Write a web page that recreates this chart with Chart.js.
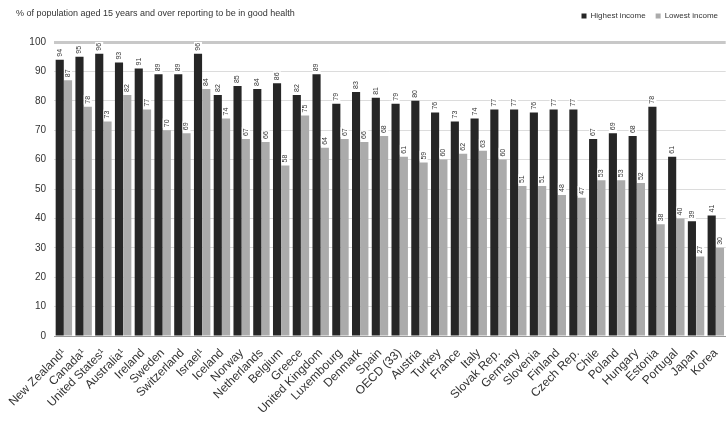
<!DOCTYPE html>
<html>
<head>
<meta charset="utf-8">
<script src="https://cdn.jsdelivr.net/npm/chart.js@4.4.1/dist/chart.umd.min.js"></script>
<style>
  body { margin: 0; background: #fff; }
  #wrap { position: relative; width: 728px; height: 421px; }
  .title { position: absolute; left: 16px; top: 8px; font: 9px "Liberation Sans", Arial, sans-serif; color: #333; }
</style>
</head>
<body>
<div id="wrap">
  <div class="title">% of population aged 15 years and over reporting to be in good health</div>
  <canvas id="myChart" width="728" height="421"></canvas>
</div>
<script>
// data
const countries = ['New Zealand¹', 'Canada¹', 'United States¹', 'Australia¹', 'Ireland', 'Sweden', 'Switzerland',
  'Israel¹', 'Iceland', 'Norway', 'Netherlands', 'Belgium', 'Greece', 'United Kingdom', 'Luxembourg', 'Denmark',
  'Spain', 'OECD (33)', 'Austria', 'Turkey', 'France', 'Italy', 'Slovak Rep.', 'Germany', 'Slovenia', 'Finland',
  'Czech Rep.', 'Chile', 'Poland', 'Hungary', 'Estonia', 'Portugal', 'Japan', 'Korea'];
const highestIncome = [94, 95, 96, 93, 91, 89, 89, 96, 82, 85, 84, 86, 82, 89, 79, 83,
  81, 79, 80, 76, 73, 74, 77, 77, 76, 77, 77, 67, 69, 68, 78, 61, 39, 41];
const lowestIncome = [87, 78, 73, 82, 77, 70, 69, 84, 74, 67, 66, 58, 75, 64, 67, 66,
  68, 61, 59, 60, 62, 63, 60, 51, 51, 48, 47, 53, 53, 52, 38, 40, 27, 30];
const yTicks = [0, 10, 20, 30, 40, 50, 60, 70, 80, 90, 100];

const FONT = '"Liberation Sans", Arial, sans-serif';

// value labels, written upright above each bar
const barLabels = {
  id: 'barLabels',
  afterDatasetsDraw(chart) {
    const ctx = chart.ctx;
    ctx.save();
    ctx.font = '7px ' + FONT;
    chart.data.datasets.forEach((ds, i) => {
      const meta = chart.getDatasetMeta(i);
      meta.data.forEach((bar, j) => {
        const txt = String(ds.data[j]);
        const w = ctx.measureText(txt).width;
        ctx.save();
        ctx.translate(bar.x, bar.y - 3);
        ctx.rotate(-Math.PI / 2);
        ctx.fillStyle = '#fff';
        ctx.fillRect(-1, -4, w + 2, 8);
        ctx.fillStyle = '#333';
        ctx.textAlign = 'left';
        ctx.textBaseline = 'middle';
        ctx.fillText(txt, 0, 0);
        ctx.restore();
      });
    });
    ctx.restore();
  }
};

// leave some room between legend and plot
const legendGap = {
  id: 'legendGap',
  beforeInit(chart) {
    const fit = chart.legend.fit;
    chart.legend.fit = function () {
      fit.call(this);
      this.height += 12;
    };
  }
};

const ctx = document.getElementById('myChart').getContext('2d');
new Chart(ctx, {
  type: 'bar',
  data: {
    labels: countries,
    datasets: [{
      label: 'Highest income',
      data: highestIncome,
      backgroundColor: '#262626',
      barPercentage: 0.98,
      categoryPercentage: 0.84
    }, {
      label: 'Lowest income',
      data: lowestIncome,
      backgroundColor: '#ababab',
      barPercentage: 0.98,
      categoryPercentage: 0.84
    }]
  },
  options: {
    responsive: false,
    animation: false,
    layout: { padding: { left: 14, right: 0, top: 2, bottom: 0 } },
    plugins: {
      legend: {
        position: 'top',
        align: 'end',
        labels: {
          boxWidth: 5, boxHeight: 5, padding: 10,
          font: { size: 8, family: FONT }, color: '#333'
        }
      },
      tooltip: { enabled: false }
    },
    scales: {
      x: {
        grid: { display: false },
        border: { color: '#999' },
        ticks: {
          minRotation: 45, maxRotation: 45, autoSkip: false,
          font: { size: 12, family: FONT }, color: '#333', padding: 2
        },
        afterFit(scale) { scale.height = 85; }
      },
      y: {
        min: 0, max: 100,
        afterBuildTicks(scale) { scale.ticks = yTicks.map(v => ({ value: v })); },
        grid: {
          color: (c) => c.tick && c.tick.value === 100 ? '#c8c8c8' : '#dcdcdc',
          lineWidth: (c) => c.tick && c.tick.value === 100 ? 3 : 1,
          drawTicks: false
        },
        border: { display: false },
        ticks: { font: { size: 10, family: FONT }, color: '#333', padding: 8 },
        afterFit(scale) { scale.width = 40; }
      }
    }
  },
  plugins: [barLabels, legendGap]
});
</script>
</body>
</html>
